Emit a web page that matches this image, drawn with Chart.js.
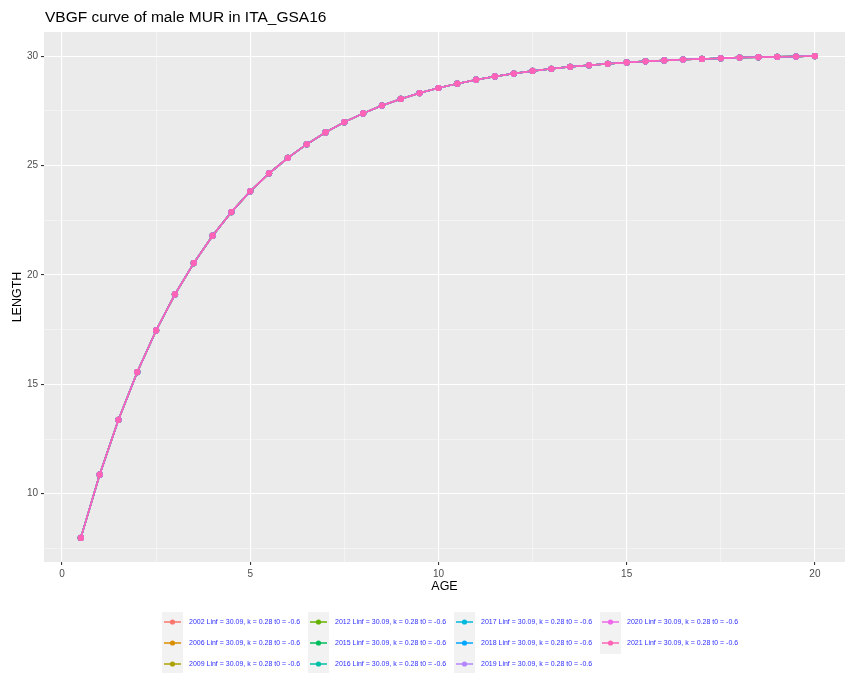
<!DOCTYPE html>
<html lang="en">
<head>
  <meta charset="UTF-8">
  <title>VBGF curve of male MUR in ITA_GSA16</title>
  <script src="https://cdn.jsdelivr.net/npm/chart.js"></script>
  <style>
    html, body { margin: 0; padding: 0; background: #ffffff; overflow: hidden; }
    canvas { display: block; }
  </style>
</head>
<body>
  <canvas id="vbgfChart" width="845" height="673"></canvas>

  <script>
    // datos
    const titleText = 'VBGF curve of male MUR in ITA_GSA16';
    const years = ['2002', '2006', '2009', '2012', '2015', '2016', '2017', '2018', '2019', '2020', '2021'];
    const yearColors = ['#F8766D', '#DB8E00', '#AEA200', '#64B200', '#00BD5C', '#00C1A7',
                        '#00BADE', '#00A6FF', '#B385FF', '#EF67EB', '#FF63B6'];
    const linf = '30.09';
    const kValue = '0.28';
    const t0 = '-0.6';

    const ages = [0.5, 1, 1.5, 2, 2.5, 3, 3.5, 4, 4.5, 5, 5.5, 6, 6.5, 7, 7.5, 8, 8.5, 9, 9.5, 10,
                  10.5, 11, 11.5, 12, 12.5, 13, 13.5, 14, 14.5, 15, 15.5, 16, 16.5, 17, 17.5, 18, 18.5, 19, 19.5, 20];
    const lengths = [7.98, 10.87, 13.38, 15.56, 17.46, 19.11, 20.54, 21.79, 22.87, 23.82,
                     24.64, 25.35, 25.97, 26.51, 26.98, 27.38, 27.74, 28.04, 28.31, 28.54,
                     28.74, 28.92, 29.07, 29.20, 29.32, 29.42, 29.51, 29.58, 29.65, 29.71,
                     29.76, 29.80, 29.84, 29.87, 29.90, 29.93, 29.95, 29.97, 29.98, 30.00];

    const xTicks = [0, 2.5, 5, 7.5, 10, 12.5, 15, 17.5, 20];
    const yTicks = [7.5, 10, 12.5, 15, 17.5, 20, 22.5, 25, 27.5, 30];

    const isMajor = v => v % 5 === 0;

    // fondo gris del panel (estilo ggplot), titulo y leyenda
    const panelBg = {
      id: 'panelBg',
      beforeDraw(chart) {
        const { ctx, chartArea: a } = chart;
        ctx.save();
        ctx.fillStyle = '#ffffff';
        ctx.fillRect(0, 0, chart.width, chart.height);
        ctx.fillStyle = '#EBEBEB';
        ctx.fillRect(a.left, a.top, a.right - a.left, a.bottom - a.top);
        ctx.restore();
      },
      afterDraw(chart) {
        const ctx = chart.ctx;
        ctx.save();
        // titulo
        ctx.fillStyle = '#000000';
        ctx.font = '15.5px "Liberation Sans", Arial, sans-serif';
        ctx.textBaseline = 'middle';
        ctx.fillText(titleText, 45, 18);

        // leyenda en columnas
        const colLeft = [162, 308, 454, 600];
        const rowY = [622, 643, 664];
        const perCol = 3;
        const nCols = Math.ceil(years.length / perCol);
        for (let c = 0; c < nCols; c++) {
          const n = Math.min(perCol, years.length - c * perCol);
          ctx.fillStyle = '#F2F2F2';
          ctx.fillRect(colLeft[c], 612, 21, n * 21);
        }
        years.forEach((year, i) => {
          const c = Math.floor(i / perCol);
          const r = i % perCol;
          const x = colLeft[c];
          const y = rowY[r];
          ctx.strokeStyle = yearColors[i];
          ctx.lineWidth = 1.5;
          ctx.beginPath();
          ctx.moveTo(x + 2, y);
          ctx.lineTo(x + 19, y);
          ctx.stroke();
          ctx.fillStyle = yearColors[i];
          ctx.beginPath();
          ctx.arc(x + 10.5, y, 2.6, 0, Math.PI * 2);
          ctx.fill();
          ctx.fillStyle = '#3030FF';
          ctx.font = '7px "Liberation Sans", Arial, sans-serif';
          ctx.textBaseline = 'middle';
          ctx.fillText(`${year} Linf = ${linf}, k = ${kValue} t0 = ${t0}`, x + 27, y);
        });
        ctx.restore();
      }
    };

    const datasets = years.map((year, i) => ({
      label: year,
      data: ages.map((a, j) => ({ x: a, y: lengths[j] })),
      borderColor: yearColors[i],
      backgroundColor: yearColors[i],
      borderWidth: 1.5,
      pointRadius: 3.1,
      pointBorderWidth: 0,
      pointHoverRadius: 3.1,
      tension: 0,
      order: years.length - i // el ultimo año queda encima
    }));

    const tickFont = { family: '"Liberation Sans", Arial, sans-serif', size: 10 };
    const titleFont = { family: '"Liberation Sans", Arial, sans-serif', size: 12.5 };

    const gridOpts = {
      color: ctx => isMajor(ctx.tick.value) ? '#FFFFFF' : 'rgba(255,255,255,0.75)',
      lineWidth: ctx => isMajor(ctx.tick.value) ? 1.1 : 0.55,
      tickColor: ctx => isMajor(ctx.tick.value) ? '#333333' : 'rgba(0,0,0,0)',
      tickWidth: 1.1,
      tickLength: 3,
      drawTicks: true
    };

    const ctx = document.getElementById('vbgfChart').getContext('2d');
    const vbgfChart = new Chart(ctx, {
      type: 'line',
      data: { datasets: datasets },
      plugins: [panelBg],
      options: {
        responsive: false,
        animation: false,
        events: [],
        layout: { autoPadding: false, padding: { top: 32, left: 0, right: 0, bottom: 78 } },
        plugins: {
          legend: { display: false },
          tooltip: { enabled: false },
          title: { display: false }
        },
        scales: {
          x: {
            type: 'linear',
            min: -0.478,
            max: 20.8,
            border: { display: false },
            grid: gridOpts,
            afterBuildTicks: scale => { scale.ticks = xTicks.map(v => ({ value: v })); },
            afterFit: scale => {
              scale.height = 33;
              scale.paddingLeft = 0;
              scale.paddingRight = 0;
            },
            ticks: {
              autoSkip: false,
              maxRotation: 0,
              padding: 3,
              color: '#4D4D4D',
              font: tickFont,
              callback: v => isMajor(v) ? String(v) : ''
            },
            title: {
              display: true,
              text: 'AGE',
              color: '#000000',
              font: titleFont,
              padding: { top: 0, bottom: 1 }
            }
          },
          y: {
            type: 'linear',
            min: 6.879,
            max: 31.1,
            border: { display: false },
            grid: gridOpts,
            afterBuildTicks: scale => { scale.ticks = yTicks.map(v => ({ value: v })); },
            afterFit: scale => {
              scale.width = 44;
              scale.paddingTop = 0;
              scale.paddingBottom = 0;
            },
            ticks: {
              autoSkip: false,
              padding: 3,
              color: '#4D4D4D',
              font: tickFont,
              callback: v => isMajor(v) ? String(v) : ''
            },
            title: {
              display: true,
              text: 'LENGTH',
              color: '#000000',
              font: titleFont,
              padding: { top: 10, bottom: 0 }
            }
          }
        }
      }
    });
  </script>
</body>
</html>
